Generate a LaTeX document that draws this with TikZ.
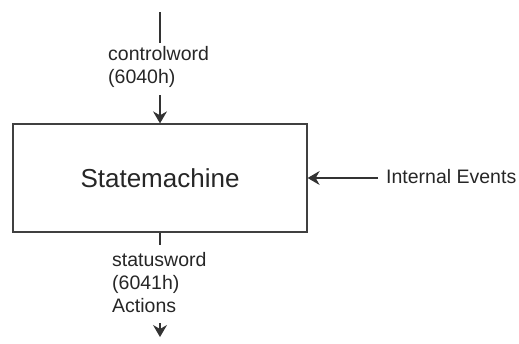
\documentclass[tikz,border=0pt]{standalone}
\usepackage{fontspec}
\setmainfont{Liberation Sans}
\usetikzlibrary{arrows.meta}
\begin{document}
\begin{tikzpicture}[x=1pt,y=-1pt,
  wire/.style={draw=black!80,line width=1.1pt},
  tip/.style={-{Stealth[length=12pt,width=14pt,inset=4pt,line width=1pt]}},
  lbl/.style={font=\fontsize{19.5}{23}\selectfont,align=left,inner sep=0pt,text=black!85},
  machine/.style={draw=black!75,line width=1.3pt,minimum width=294pt,minimum height=108pt,inner sep=0pt,
    font=\fontsize{26}{30}\selectfont,text=black!85}]
\useasboundingbox (0,0) rectangle (519,343);
% the state machine block
\node[machine] (sm) at (160,178) {Statemachine};
% control word entering from above
\coordinate (cwin) at (160,12);
\coordinate (cwa) at (160,43);
\coordinate (cwb) at (160,95);
\node[lbl,anchor=north west] (cw) at (108,46.5) {controlword\\(6040h)};
\draw[wire] (cwin) -- (cwa);
\draw[wire,tip] (cwb) -- (sm.north);
% status word and actions leaving below
\coordinate (swa) at (160,245);
\node[lbl,anchor=north west] (sw) at (112,252.5) {statusword\\(6041h)\\Actions};
\coordinate (swb) at (160,323);
\coordinate (swc) at (160,337);
\draw[wire] (sm.south) -- (swa);
\draw[wire,tip] (swb) -- (swc);
% internal events from the right
\coordinate (iein) at (378,178);
\node[lbl,anchor=base west] (ie) at (386,183) {Internal Events};
\draw[wire,tip] (iein) -- (sm.east);
\end{tikzpicture}
\end{document}
